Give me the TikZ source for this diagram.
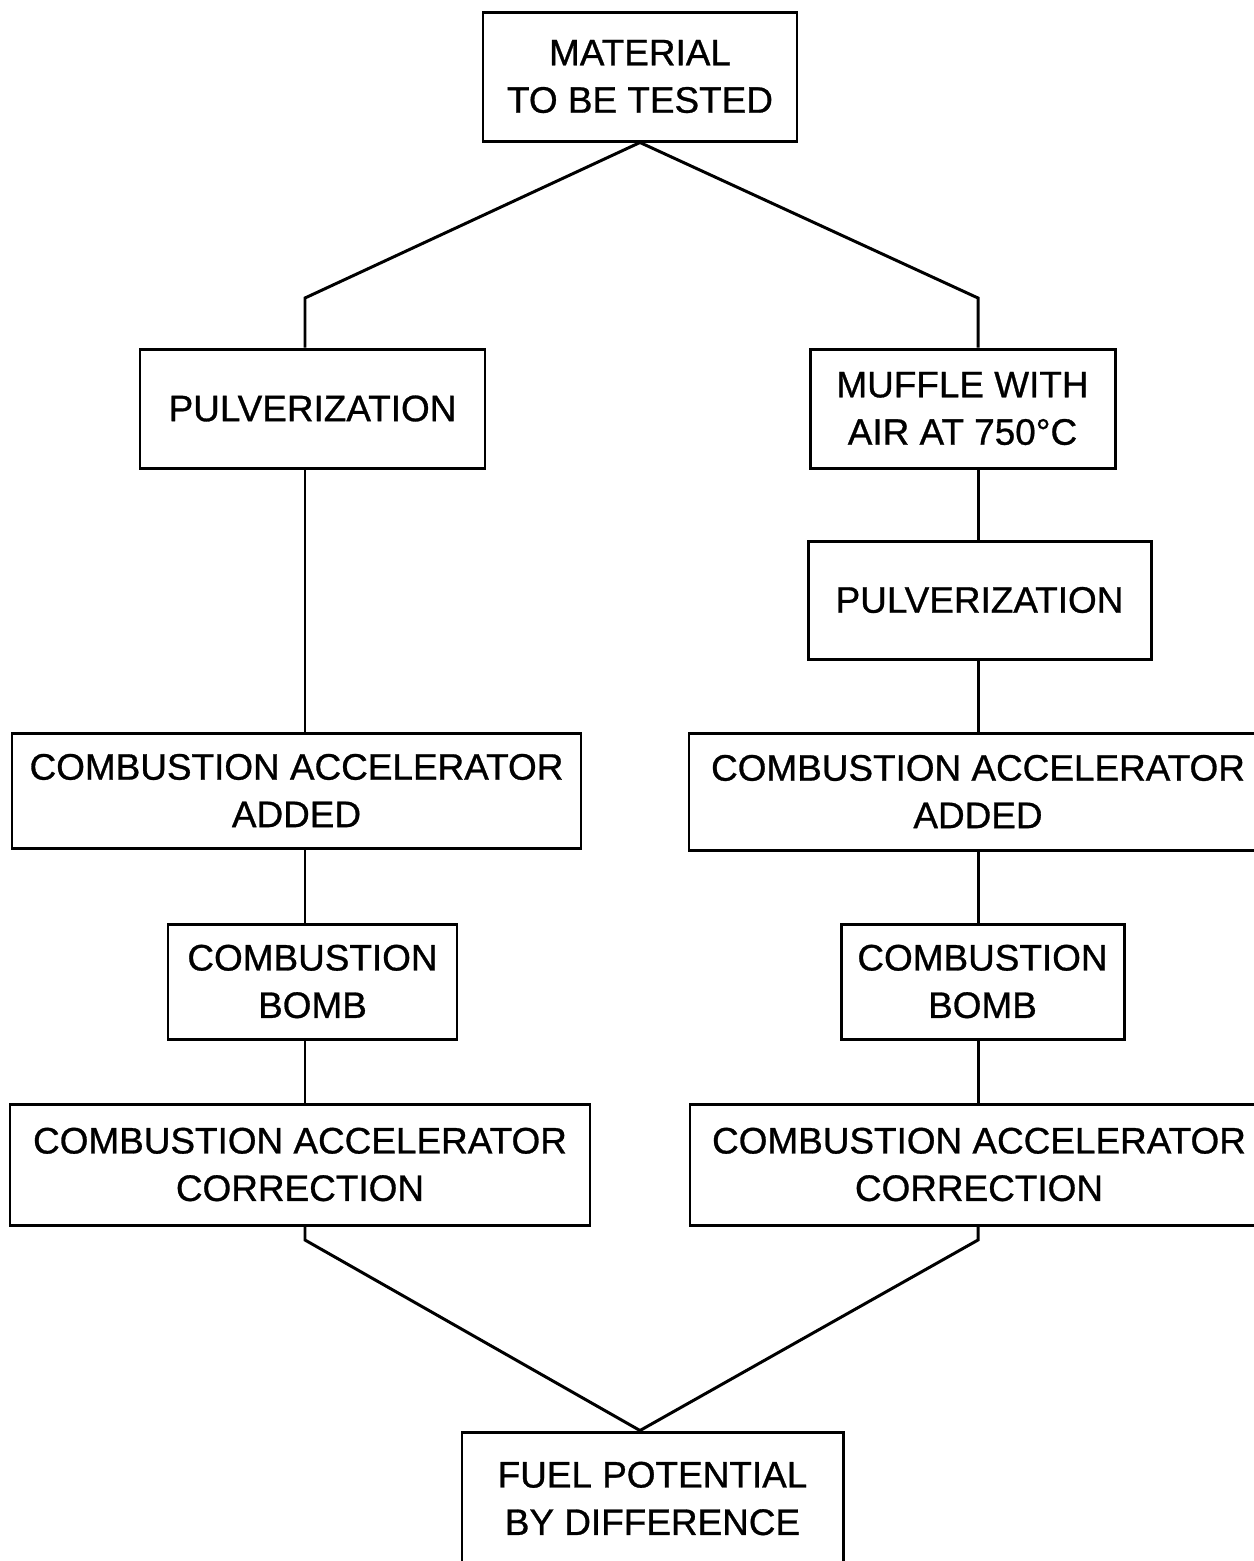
\documentclass[tikz,border=0pt]{standalone}
\usepackage{fontspec}
\setmainfont{Liberation Sans}[FakeBold=0.8]
\usepackage{tikz}

\tikzset{
	stage/.style={draw, line width=0.85pt, align=center, inner sep=0pt,
		font=\fontsize{10.5}{13.5}\selectfont},
	link/.style={line width=0.85pt}
}

\begin{document}
\begin{tikzpicture}
				\clip (0, 0) rectangle (12.54, -15.61);
				\fill[white] (0, 0) rectangle (12.54, -15.61);
				
				%Top
				\node[stage, minimum width=3.14cm, minimum height=1.29cm] (matl) at (6.40, -0.765) {MATERIAL\\TO BE TESTED};
				
				%Left column
				\node[stage, minimum width=3.45cm, minimum height=1.19cm] (pulvl) at (3.125, -4.085) {PULVERIZATION};
				\node[stage, minimum width=5.69cm, minimum height=1.15cm] (accl) at (2.965, -7.905) {COMBUSTION ACCELERATOR\\ADDED};
				\node[stage, minimum width=2.89cm, minimum height=1.15cm] (bombl) at (3.125, -9.815) {COMBUSTION\\BOMB};
				\node[stage, minimum width=5.80cm, minimum height=1.21cm] (corrl) at (3.00, -11.645) {COMBUSTION ACCELERATOR\\CORRECTION};
				
				%Right column
				\node[stage, minimum width=3.05cm, minimum height=1.19cm] (muff) at (9.625, -4.085) {MUFFLE WITH\\AIR AT 750\textdegree C};
				\node[stage, minimum width=3.43cm, minimum height=1.18cm] (pulvr) at (9.795, -6.00) {PULVERIZATION};
				\node[stage, minimum width=5.78cm, minimum height=1.17cm] (accr) at (9.78, -7.915) {COMBUSTION ACCELERATOR\\ADDED};
				\node[stage, minimum width=2.83cm, minimum height=1.15cm] (bombr) at (9.825, -9.815) {COMBUSTION\\BOMB};
				\node[stage, minimum width=5.78cm, minimum height=1.21cm] (corrr) at (9.79, -11.645) {COMBUSTION ACCELERATOR\\CORRECTION};
				
				%Bottom
				\node[stage, minimum width=3.81cm, minimum height=1.33cm] (fuel) at (6.525, -14.985) {FUEL POTENTIAL\\BY DIFFERENCE};
				
				%Bends
				\coordinate (kl1) at (3.05, -2.98);
				\coordinate (kr1) at (9.78, -2.98);
				\coordinate (kl2) at (3.05, -12.40);
				\coordinate (kr2) at (9.78, -12.40);
				
				%Lines
				\draw[link] (matl.south) -- (kl1) -- (kl1 |- pulvl.north);
				\draw[link] (matl.south) -- (kr1) -- (kr1 |- muff.north);
				\draw[link] (kl1 |- pulvl.south) -- (kl1 |- accl.north);
				\draw[link] (kl1 |- accl.south) -- (kl1 |- bombl.north);
				\draw[link] (kl1 |- bombl.south) -- (kl1 |- corrl.north);
				\draw[link] (kr1 |- muff.south) -- (kr1 |- pulvr.north);
				\draw[link] (kr1 |- pulvr.south) -- (kr1 |- accr.north);
				\draw[link] (kr1 |- accr.south) -- (kr1 |- bombr.north);
				\draw[link] (kr1 |- bombr.south) -- (kr1 |- corrr.north);
				\draw[link] (kl2 |- corrl.south) -- (kl2) -- (fuel.north -| matl.south);
				\draw[link] (kr2 |- corrr.south) -- (kr2) -- (fuel.north -| matl.south);
			\end{tikzpicture}
\end{document}
